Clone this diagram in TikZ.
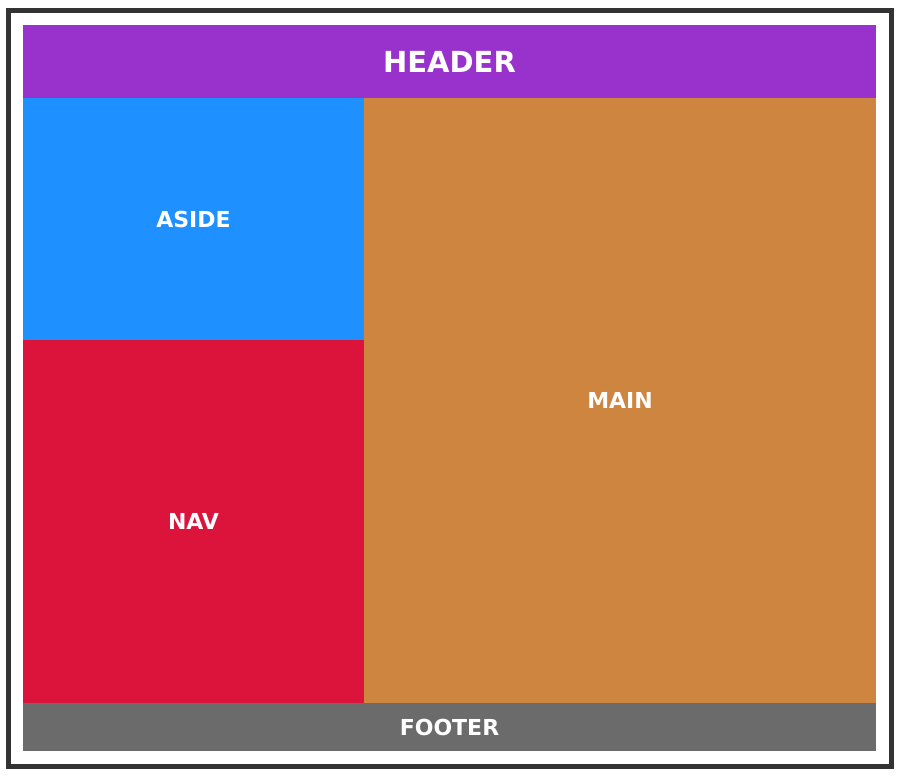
\documentclass[tikz,border=0pt]{standalone}
\usepackage{fontspec}
\setmainfont{DejaVu Sans}
\usepackage{tikz}
\usetikzlibrary{positioning}
\usepackage{xcolor}
\definecolor{headercol}{HTML}{9932CC}
\definecolor{asidecol}{HTML}{1E90FF}
\definecolor{navcol}{HTML}{DC143C}
\definecolor{maincol}{HTML}{CD853F}
\definecolor{footercol}{HTML}{6B6B6B}
\definecolor{framecol}{HTML}{333333}

\begin{document}
\begin{tikzpicture}[x=1pt,y=-1pt,
    label/.style={text=white, font=\bfseries\fontsize{22}{26}\selectfont, inner sep=0pt}]
    \useasboundingbox (0,0) rectangle (901,777);

    % Outer frame
    \draw[framecol, line width=5pt] (8.5,10.5) rectangle (891.5,766.5);

    % Regions
    \fill[headercol] (23,25) rectangle (876,98);
    \fill[asidecol]  (23,98) rectangle (364,340);
    \fill[navcol]    (23,340) rectangle (364,703);
    \fill[maincol]   (364,98) rectangle (876,703);
    \fill[footercol] (23,703) rectangle (876,751);

    % Labels
    \node[label, font=\bfseries\fontsize{29}{34}\selectfont] (header) at (449.5,61.5) {HEADER};
    \node[label] (aside)  at (193.5,219) {ASIDE};
    \node[label] (nav)    at (193.5,521.5) {NAV};
    \node[label] (main)   at (620,400.5) {MAIN};
    \node[label] (footer) at (449.5,727) {FOOTER};
\end{tikzpicture}
\end{document}
